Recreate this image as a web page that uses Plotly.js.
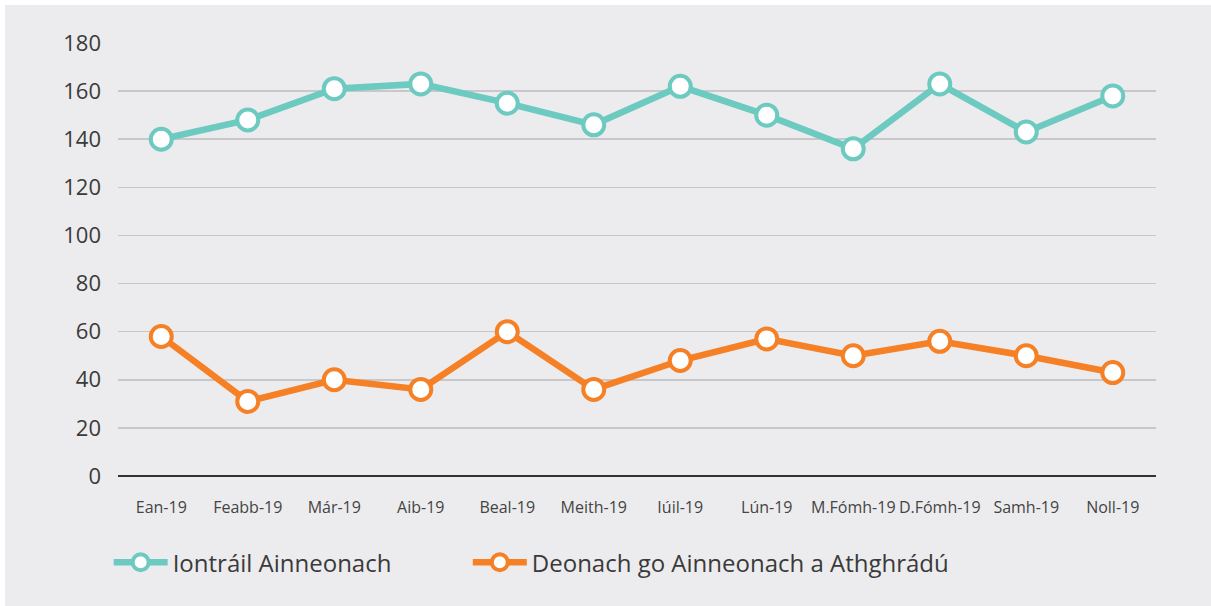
<!DOCTYPE html>
<html>
<head>
<meta charset="utf-8">
<script src="https://cdn.plot.ly/plotly-3.0.1.min.js"></script>
<style>
  html, body { margin: 0; padding: 0; background: #ffffff; }
  #chart { position: absolute; left: 5px; top: 5px; width: 1206px; height: 601px; }
</style>
</head>
<body>
<div id="chart"></div>
<script>
const months = ["Ean-19", "Feabb-19", "Már-19", "Aib-19", "Beal-19", "Meith-19", "Iúil-19", "Lún-19", "M.Fómh-19", "D.Fómh-19", "Samh-19", "Noll-19"];
const iontrailAinneonach = [140, 148, 161, 163, 155, 146, 162, 150, 136, 163, 143, 158];
const deonachGoAinneonach = [58, 31, 40, 36, 60, 36, 48, 57, 50, 56, 50, 43];
const seriesNames = ["Iontráil Ainneonach", "Deonach go Ainneonach a Athghrádú"];
const yTicks = [0, 20, 40, 60, 80, 100, 120, 140, 160, 180];

const FONT = "Open Sans, Lato, sans-serif";
const teal = "#6DCAC0";
const orange = "#F58025";

function trace(y, name, color, legendId) {
  return {
    type: "scatter",
    mode: "lines+markers",
    x: months,
    y: y,
    name: name,
    legend: legendId,
    line: { color: color, width: 6.5 },
    marker: { size: 21, color: "#ffffff", line: { color: color, width: 4 } },
    cliponaxis: false,
    hoverinfo: "x+y"
  };
}

const data = [
  trace(iontrailAinneonach, seriesNames[0], teal, "legend"),
  trace(deonachGoAinneonach, seriesNames[1], orange, "legend2")
];

function legendAt(x) {
  return {
    orientation: "h",
    x: x,
    xanchor: "left",
    y: -0.2,
    yanchor: "middle",
    bgcolor: "rgba(0,0,0,0)",
    font: { family: FONT, size: 24, color: "#3a3a3a" },
    itemwidth: 54
  };
}

const layout = {
  width: 1206,
  height: 601,
  paper_bgcolor: "#ECECEE",
  plot_bgcolor: "#ECECEE",
  margin: { l: 113, r: 55, t: 38, b: 130 },
  font: { family: FONT, color: "#3a3a3a" },
  showlegend: true,
  xaxis: {
    type: "category",
    range: [-0.5, 11.5],
    showgrid: false,
    zeroline: false,
    showline: false,
    ticks: "",
    tickangle: 0,
    ticklabelstandoff: 20,
    tickfont: { family: FONT, size: 16, color: "#444444" },
    fixedrange: true
  },
  yaxis: {
    range: [0, 180],
    tickvals: yTicks,
    ticktext: yTicks.map(String),
    showgrid: true,
    gridcolor: "#C8C8CA",
    gridwidth: 1.5,
    zeroline: true,
    zerolinecolor: "#333333",
    zerolinewidth: 2,
    ticks: "",
    ticklabelstandoff: 16,
    tickfont: { family: FONT, size: 22, color: "#3a3a3a" },
    fixedrange: true
  },
  legend: legendAt(-0.009),
  legend2: legendAt(0.337)
};

Plotly.newPlot("chart", data, layout, { displayModeBar: false, staticPlot: true });
</script>
</body>
</html>
